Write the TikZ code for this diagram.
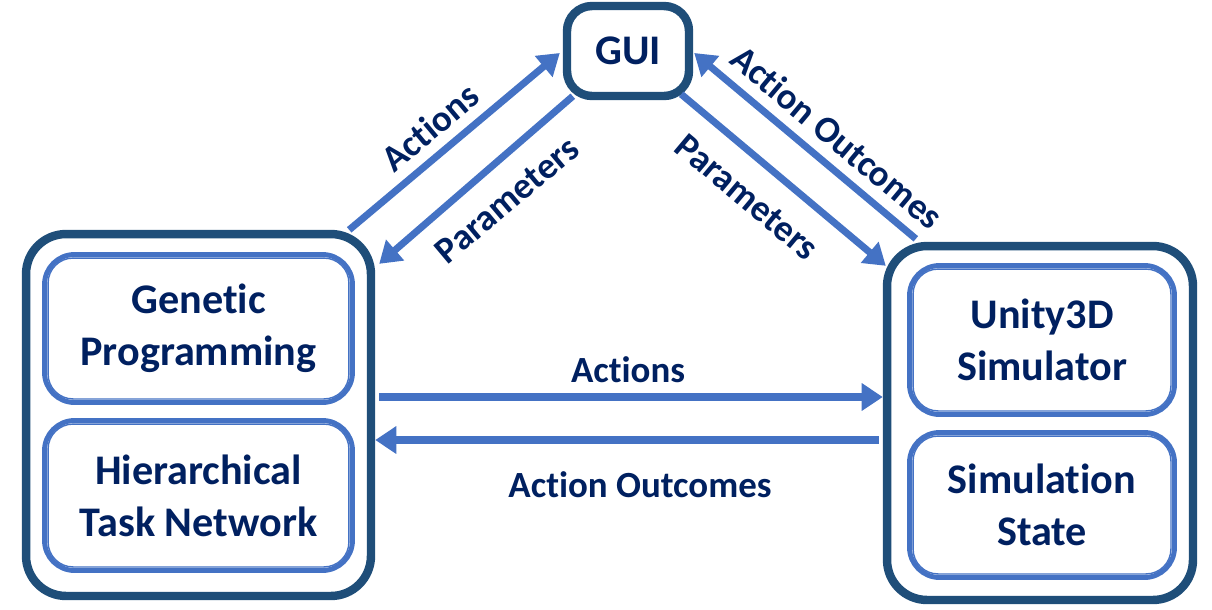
\documentclass[tikz,border=0pt]{standalone}
\usepackage{fontspec}
\setmainfont{Carlito}[Ligatures=NoCommon]
\usetikzlibrary{arrows.meta,calc}

\definecolor{navy}{HTML}{002060}
\definecolor{boxblue}{HTML}{1F4E79}
\definecolor{arrblue}{HTML}{4472C4}

\tikzset{
    outerbox/.style={draw=boxblue, line width=4.8pt, rounded corners=0.8cm, fill=white, inner sep=0pt},
    guibox/.style={draw=boxblue, line width=4.8pt, rounded corners=0.5cm, fill=white, inner sep=0pt,
        font=\fontsize{24}{29.5}\selectfont\bfseries, text=navy},
    innerbox/.style={draw=arrblue, line width=2.8pt, rounded corners=0.6cm, inner sep=0pt, align=center,
        font=\fontsize{24}{29.5}\selectfont\bfseries, text=navy},
    flow/.style={draw=arrblue, line width=4pt, -{Triangle[length=12pt,width=15pt]}},
    lbl/.style={font=\fontsize{21}{25}\selectfont\bfseries, text=navy},
}

\begin{document}
\begin{tikzpicture}[x=0.02cm, y=-0.02cm]
    \useasboundingbox (0,0) rectangle (1212,609);

    % Cajas principales
    \node[outerbox, minimum width=6.9cm,  minimum height=7.24cm] (lbox) at (198.5,415) {};
    \node[outerbox, minimum width=6.12cm, minimum height=7.08cm] (rbox) at (1040,423) {};
    \node[guibox,   minimum width=2.44cm, minimum height=1.8cm]  (gui)  at (628,51)   {GUI};

    \node[innerbox, minimum width=6.16cm, minimum height=2.96cm] (gp)    at (198.5,328.5) {Genetic\\Programming};
    \node[innerbox, minimum width=6.16cm, minimum height=3.0cm]  (htn)   at (198.5,495.5) {Hierarchical\\Task Network};
    \node[innerbox, minimum width=5.3cm,  minimum height=2.98cm] (sim)   at (1042,340)    {Unity3D\\Simulator};
    \node[innerbox, minimum width=5.3cm,  minimum height=2.9cm]  (state) at (1042,505)    {Simulation\\State};

    % Linea interior fina
    \foreach \n in {gp,htn,sim,state} {
        \draw[arrblue, line width=0.8pt, rounded corners=0.5cm]
            ($(\n.north west)+(6,6)$) rectangle ($(\n.south east)+(-6,-6)$);
    }

    % Flechas
    \draw[flow] ($(lbox.north east)+(-26,0)$) -- ($(gui.west)+(-3,2)$);
    \draw[flow] ($(gui.south west)+(10,-4)$) -- ($(lbox.north east)+(4,34)$);
    \draw[flow] ($(gui.south east)+(-12,-6)$) -- ($(rbox.north west)+(3,24)$);
    \draw[flow] ($(rbox.north west)+(33,-3)$) -- ($(gui.east)+(1,2)$);

    \coordinate (a1) at ($(lbox.east)+(4,-18)$);
    \coordinate (a2) at ($(rbox.west)+(-4,17)$);
    \draw[flow] (a1) -- (a1 -| rbox.west);
    \draw[flow] (a2) -- (a2 -| lbox.east);

    % Etiquetas
    \node[lbl, rotate=40]  (lact) at (430,127) {Actions};
    \node[lbl, rotate=40]  (lpar) at (507,200) {Parameters};
    \node[lbl, rotate=-40] (rpar) at (747,197) {Parameters};
    \node[lbl, rotate=-40] (rout) at (837,137) {Action Outcomes};
    \node[lbl] (hact) at (628,370) {Actions};
    \node[lbl] (hout) at (640,485) {Action Outcomes};
\end{tikzpicture}
\end{document}
